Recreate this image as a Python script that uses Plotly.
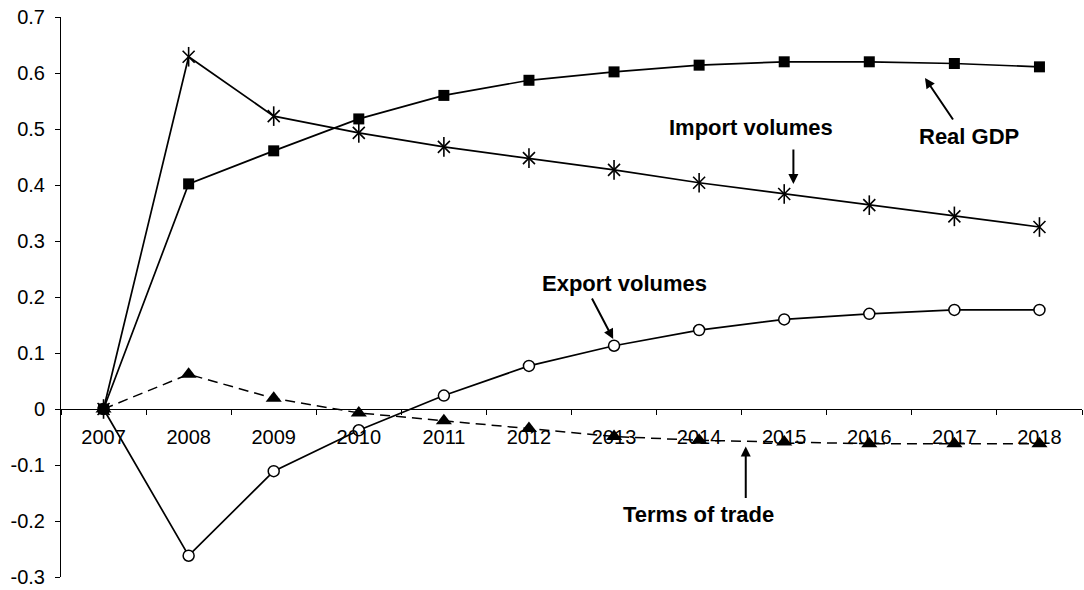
import plotly.graph_objects as go

years = ["2007", "2008", "2009", "2010", "2011", "2012", "2013", "2014", "2015", "2016", "2017", "2018"]
real_gdp = [0, 0.402, 0.461, 0.518, 0.560, 0.587, 0.602, 0.614, 0.620, 0.620, 0.617, 0.611]
import_volumes = [0, 0.629, 0.523, 0.493, 0.468, 0.448, 0.427, 0.404, 0.384, 0.364, 0.344, 0.325]
export_volumes = [0, -0.262, -0.111, -0.038, 0.024, 0.077, 0.113, 0.141, 0.160, 0.170, 0.177, 0.177]
terms_of_trade = [0, 0.062, 0.019, -0.007, -0.021, -0.035, -0.049, -0.056, -0.059, -0.062, -0.062, -0.062]

y_tickvals = [0.7, 0.6, 0.5, 0.4, 0.3, 0.2, 0.1, 0, -0.1, -0.2, -0.3]
y_ticktext = ["0.7", "0.6", "0.5", "0.4", "0.3", "0.2", "0.1", "0", "-0.1", "-0.2", "-0.3"]

FONT = "Liberation Sans, Arial, sans-serif"
BLACK = "#000000"

fig = go.Figure()

fig.add_trace(go.Scatter(
    x=years, y=terms_of_trade, mode="lines+markers", name="Terms of trade",
    line=dict(color=BLACK, width=1.5, dash="10px,6px"),
    marker=dict(symbol="triangle-up", size=14, color=BLACK),
))
fig.add_trace(go.Scatter(
    x=years, y=export_volumes, mode="lines+markers", name="Export volumes",
    line=dict(color=BLACK, width=1.7),
    marker=dict(symbol="circle", size=11, color="white", line=dict(color=BLACK, width=1.5)),
))
fig.add_trace(go.Scatter(
    x=years, y=import_volumes, mode="lines+markers", name="Import volumes",
    line=dict(color=BLACK, width=1.7),
    marker=dict(symbol="x-thin-open", size=12, color=BLACK, line=dict(color=BLACK, width=1.6)),
))
fig.add_trace(go.Scatter(
    x=years, y=import_volumes, mode="markers", name="Import volumes", showlegend=False,
    marker=dict(symbol="line-ns-open", size=14, color=BLACK, line=dict(color=BLACK, width=1.6)),
))
fig.add_trace(go.Scatter(
    x=years, y=real_gdp, mode="lines+markers", name="Real GDP",
    line=dict(color=BLACK, width=1.7),
    marker=dict(symbol="square", size=11, color=BLACK),
))

ann_font = dict(family=FONT, size=22, color=BLACK)
annotations = [
    # text labels
    dict(x=10.17, y=0.486, text="<b>Real GDP</b>", showarrow=False, font=ann_font,
         xanchor="center", yanchor="middle"),
    dict(x=7.61, y=0.502, text="<b>Import volumes</b>", showarrow=False, font=ann_font,
         xanchor="center", yanchor="middle"),
    dict(x=6.118, y=0.224, text="<b>Export volumes</b>", showarrow=False, font=ann_font,
         xanchor="center", yanchor="middle"),
    dict(x=6.987, y=-0.189, text="<b>Terms of trade</b>", showarrow=False, font=ann_font,
         xanchor="center", yanchor="middle"),
    # arrows
    dict(x=9.655, y=0.591, text="", showarrow=True, ax=29, ay=43,
         arrowhead=2, arrowsize=1, arrowwidth=2, arrowcolor=BLACK),
    dict(x=8.108, y=0.402, text="", showarrow=True, ax=0, ay=-36,
         arrowhead=2, arrowsize=1, arrowwidth=2, arrowcolor=BLACK),
    dict(x=5.99, y=0.125, text="", showarrow=True, ax=-22, ay=-42,
         arrowhead=2, arrowsize=1, arrowwidth=2, arrowcolor=BLACK),
    dict(x=7.548, y=-0.067, text="", showarrow=True, ax=0, ay=53,
         arrowhead=2, arrowsize=1, arrowwidth=2, arrowcolor=BLACK),
]
for a in annotations:
    a.setdefault("xref", "x")
    a.setdefault("yref", "y")
    fig.add_annotation(**a)

fig.update_layout(
    width=1084, height=590, autosize=False,
    margin=dict(l=61, r=2, t=17, b=13, pad=0),
    paper_bgcolor="white", plot_bgcolor="white",
    showlegend=False,
    font=dict(family=FONT, size=20, color=BLACK),
    xaxis=dict(
        type="category", range=[-0.5, 11.5],
        anchor="free", position=0.3,
        showline=True, linecolor=BLACK, linewidth=1,
        ticks="outside", ticklen=5, tickwidth=1, tickcolor=BLACK,
        tickson="boundaries", showgrid=False, zeroline=False,
        ticklabelstandoff=10,
        tickfont=dict(family=FONT, size=20, color=BLACK),
    ),
    yaxis=dict(
        range=[-0.3, 0.7], tickvals=y_tickvals, ticktext=y_ticktext,
        showline=True, linecolor=BLACK, linewidth=1,
        ticks="outside", ticklen=5, tickwidth=1, tickcolor=BLACK,
        showgrid=False, zeroline=False,
        ticklabelstandoff=6,
        tickfont=dict(family=FONT, size=20, color=BLACK),
    ),
)

fig.write_html(
    "out.html",
    config={"displayModeBar": False},
    post_script="document.body.style.margin='0';document.body.style.overflow='hidden';",
)
